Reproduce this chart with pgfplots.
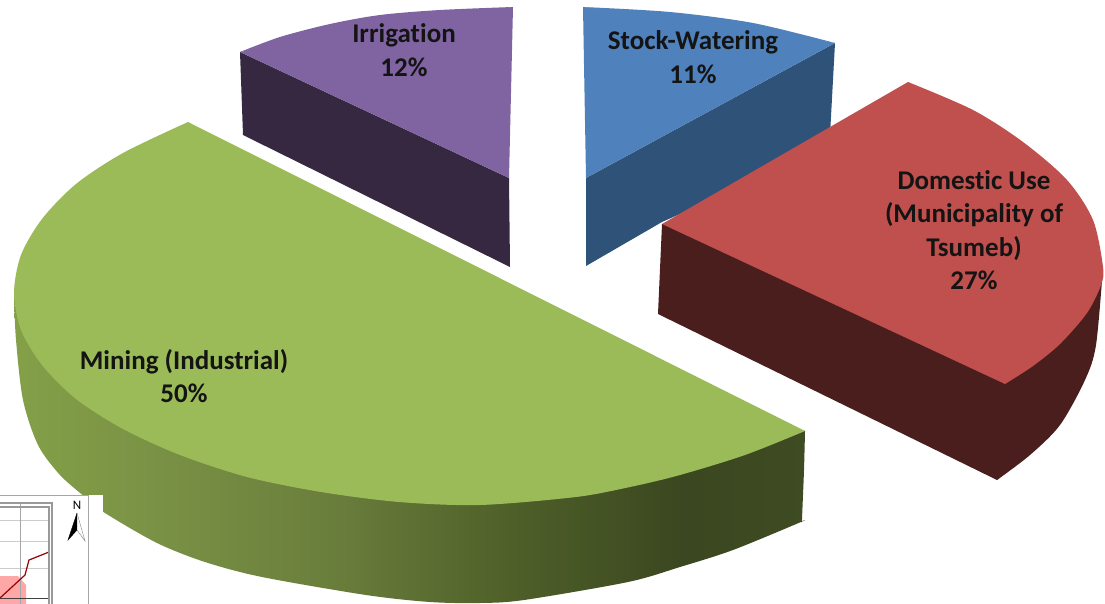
\documentclass[border=0pt]{standalone}
\usepackage{fontspec}
\usepackage{pgfplots}
\pgfplotsset{compat=1.18}
\setmainfont{Carlito}[Ligatures=NoCommon]
\definecolor{greentop}{RGB}{155,187,89}
\definecolor{redtop}{RGB}{192,80,77}
\definecolor{redside}{RGB}{74,30,29}
\definecolor{bluetop}{RGB}{79,129,189}
\definecolor{blueside}{RGB}{47,82,121}
\definecolor{purpletop}{RGB}{128,100,162}
\definecolor{purpleside}{RGB}{54,40,64}
\definecolor{labeltext}{RGB}{20,20,20}
% tikz fits the path's box into 25bp..75bp of the shading
\pgfdeclarehorizontalshading{greenside}{100bp}{
  rgb(0bp)=(.518,.627,.282);
  rgb(25bp)=(.518,.627,.282);
  rgb(33.5bp)=(.478,.573,.271);
  rgb(45bp)=(.416,.494,.235);
  rgb(56bp)=(.31,.376,.161);
  rgb(67bp)=(.231,.278,.125);
  rgb(75bp)=(.247,.294,.133);
  rgb(100bp)=(.247,.294,.133)}
\tikzset{lbl/.style={font=\fontsize{27}{33.5}\selectfont\bfseries, text=labeltext, align=center, inner sep=0pt}}
\begin{document}
\begin{tikzpicture}
\begin{axis}[
    width=1105pt, height=604pt,
    scale only axis,
    hide axis,
    xmin=0, xmax=1105,
    ymin=0, ymax=604,
    y dir=reverse,
    no markers,
]
% irrigation
\addplot[draw=none, fill=purpleside] coordinates {(240,52) (243,135) (510,267) (509,178)};
\addplot[fill=purpletop, draw=none] coordinates {(240,52) (400,18) (513,7) (509,178)};
\addplot[smooth, fill=purpletop, draw=none] coordinates {(240,52) (280,37) (330,24) (380,15) (440,10) (513,7)};
% stock-watering
\addplot[draw=none, fill=blueside] coordinates {(835,43) (830,135) (700,205) (662,222) (586,266) (586,178)};
\addplot[fill=bluetop, draw=none] coordinates {(583,7) (710,21) (835,43) (586,178)};
\addplot[smooth, fill=bluetop, draw=none] coordinates {(583,7) (670,12) (753,23) (835,43)};
% domestic use
\addplot[draw=none, fill=redside] coordinates {(662,224) (658,314) (997,480) (1040,440) (1085,350) (1103,267)};
\addplot[smooth, fill=redside, draw=none] coordinates {(1103,267) (1096,345) (1085,380) (1060,425) (1030,455) (997,480)};
\addplot[fill=redtop, draw=none] coordinates {(662,224) (908,82) (1060,230) (1005,384)};
\addplot[smooth, fill=redtop, draw=none] coordinates {(908,82) (973,110) (1023,142) (1067,180) (1093,220) (1103,267) (1101,285) (1087,313) (1060,344) (1033,366) (1005,384)};
% mining
\addplot[smooth, shading=greenside, draw=none] coordinates {(14,297) (16,340) (23,400) (38,445) (60,475) (85,497) (105,513) (157,543) (205,562) (262,577) (366,595) (430,602) (480,603) (524,600) (628,582) (680,567) (733,550) (801,522) (802,521) (802,519) (804,470) (805,431)};
\addplot[smooth, fill=greentop, draw=none] coordinates {(805,431) (745,455) (680,475) (630,487) (576,497) (480,505) (399,502) (321,492) (247,477) (180,455) (123,429) (76,399) (42,365) (21,330) (14,293) (21,255) (42,219) (76,184) (123,153) (188,122)};
% map inset
\addplot[draw=none, fill=white] coordinates {(0,495) (103,495) (103,604) (0,604)};
\addplot[fill=red!35!white, draw=none] coordinates {(0,576) (18,576) (26,585) (26,604) (0,604)};
\addplot[gray!40, thin] coordinates {(0,520) (49,520)};
\addplot[gray!40, thin] coordinates {(0,541) (49,541)};
\addplot[gray!40, thin] coordinates {(0,568) (49,568)};
\addplot[gray!70, thin] coordinates {(20,503) (20,604)};
\addplot[black!75, thick] coordinates {(0,598) (49,598)};
\addplot[red!60!black, line width=1.2pt] coordinates {(0,598) (25,575) (29,560) (49,552)};
\addplot[gray!80, line width=1.2pt] coordinates {(0,503) (52,503) (52,604)};
\addplot[gray!80, line width=1.2pt] coordinates {(0,507) (49,507) (49,604)};
\addplot[gray!70, line width=0.8pt] coordinates {(0,495) (88,495) (88,604)};
\addplot[fill=black, draw=black, thin] coordinates {(77,513) (68,540) (77,530)};
\addplot[draw=gray, thin] coordinates {(77,513) (85,541) (77,530)};
\node[font=\fontsize{13}{13}\selectfont] at (axis cs:77,505) {N};
% labels
\node[lbl] at (axis cs:404,50) {Irrigation\\12\%};
\node[lbl] at (axis cs:693,57) {Stock-Watering\\11\%};
\node[lbl] at (axis cs:974,230) {Domestic Use\\(Municipality of\\Tsumeb)\\27\%};
\node[lbl] at (axis cs:184,376) {Mining (Industrial)\\50\%};
\end{axis}
\path (0,0) rectangle (1105pt,604pt);
\end{tikzpicture}
\end{document}
